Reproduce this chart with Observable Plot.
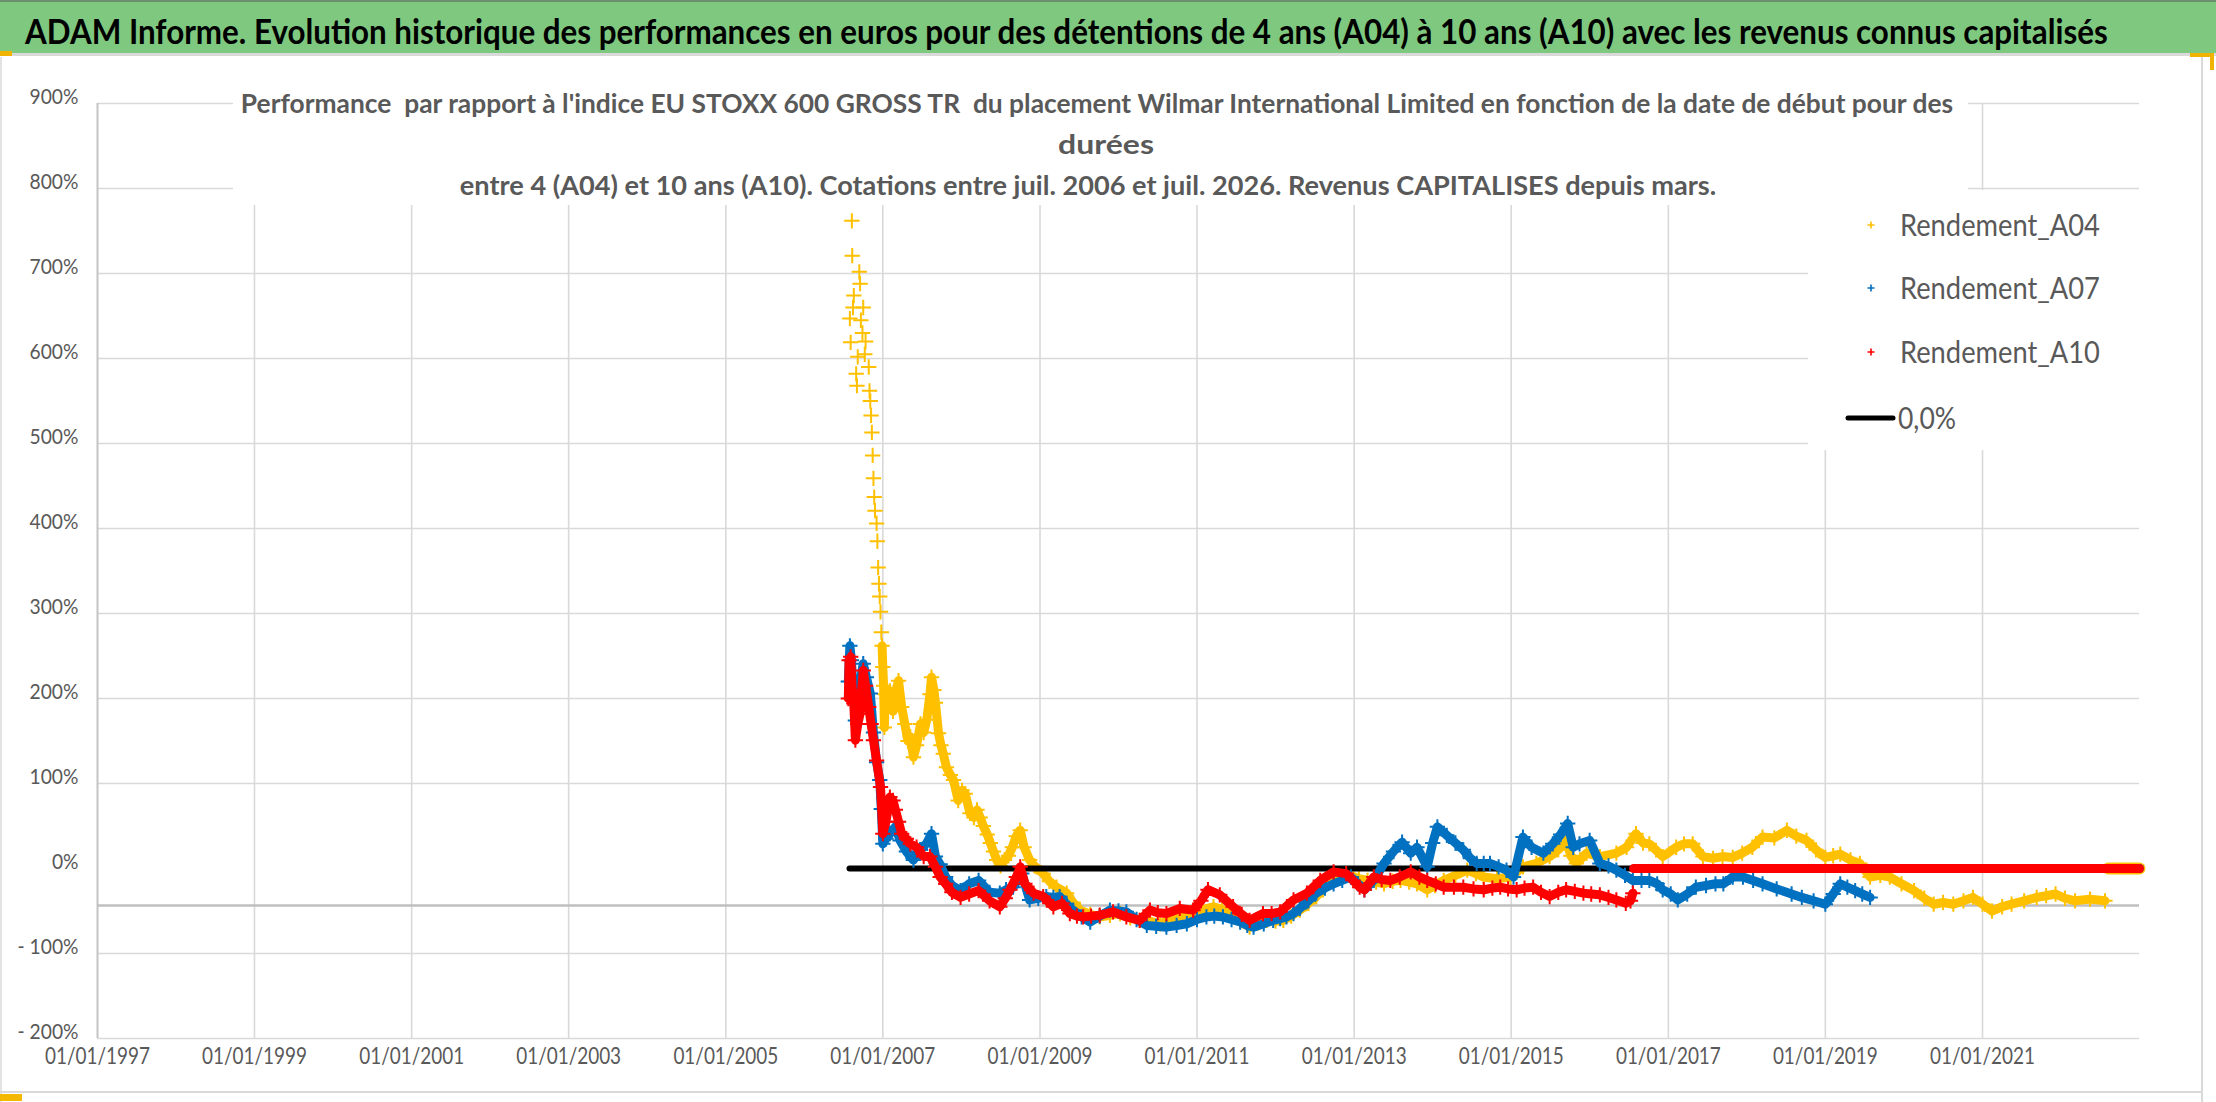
<!DOCTYPE html>
<html><head><meta charset="utf-8">
<script src="https://cdn.jsdelivr.net/npm/d3@7"></script>
<script src="https://cdn.jsdelivr.net/npm/@observablehq/plot@0.6"></script>
<style>
html,body{margin:0;padding:0;background:#fff;}
#wrap{position:relative;width:2216px;height:1102px;overflow:hidden;}
#title svg,#chart svg{display:block;}
</style></head>
<body><div id="wrap"><div id="title"></div><div id="chart"></div></div>
<script>
const FONT = 'Lato,"Open Sans","Noto Sans",sans-serif';
const titleText = "ADAM Informe. Evolution historique des performances en euros pour des détentions de 4 ans (A04) à 10 ans (A10) avec les revenus connus capitalisés";
const subtitleLines = [
  "Performance  par rapport à l'indice EU STOXX 600 GROSS TR  du placement Wilmar International Limited en fonction de la date de début pour des",
  "durées",
  "entre 4 (A04) et 10 ans (A10). Cotations entre juil. 2006 et juil. 2026. Revenus CAPITALISES depuis mars."
];
const seriesNames = ["Rendement_A04", "Rendement_A07", "Rendement_A10", "0,0%"];
const seriesColors = ["#FFC000", "#0070C0", "#FF0000", "#000000"];
const xTickYears = [1997,1999,2001,2003,2005,2007,2009,2011,2013,2015,2017,2019,2021];
const xDomainYears = [1997, 2023];
const yTicks = [-2,-1,0,1,2,3,4,5,6,7,8,9];
const axisCross = -0.435;

// [decimal year, performance (1 = 100%)]
const a04 = [
[2006.58,6.47],[2006.59,6.19],[2006.605,7.62],[2006.61,7.21],[2006.62,6.60],[2006.63,6.74],[2006.66,5.82],[2006.67,5.68],
[2006.68,6.02],[2006.70,7.02],[2006.71,6.88],[2006.72,6.45],[2006.74,6.30],[2006.75,6.60],[2006.77,6.05],[2006.78,6.20],
[2006.82,5.90],[2006.83,5.62],[2006.84,5.50],[2006.85,5.33],[2006.86,5.13],[2006.87,4.86],[2006.88,4.59],[2006.89,4.37],
[2006.90,4.21],[2006.92,4.06],[2006.93,3.85],[2006.94,3.54],[2006.95,3.35],[2006.96,3.20],[2006.97,3.02],[2006.98,2.78],
[2006.99,2.62],[2007.00,2.37],[2007.01,2.15],[2007.02,1.66],[2007.03,2.05],[2007.06,1.95],[2007.09,2.09],[2007.13,1.85],
[2007.17,2.10],[2007.20,2.21],[2007.24,1.90],[2007.28,1.70],[2007.32,1.50],[2007.35,1.55],[2007.39,1.31],[2007.43,1.45],
[2007.48,1.70],[2007.52,1.60],[2007.56,1.75],[2007.60,2.05],[2007.62,2.25],[2007.65,2.10],[2007.67,1.95],[2007.71,1.59],
[2007.74,1.45],[2007.77,1.35],[2007.81,1.19],[2007.86,1.10],[2007.90,1.04],[2007.96,0.80],[2008.01,0.92],[2008.05,0.88],
[2008.11,0.65],[2008.16,0.60],[2008.20,0.69],[2008.24,0.60],[2008.28,0.50],[2008.33,0.40],[2008.37,0.30],[2008.41,0.20],
[2008.45,0.10],[2008.50,0.03],[2008.55,0.10],[2008.60,0.15],[2008.65,0.25],[2008.70,0.38],[2008.75,0.45],[2008.80,0.25],
[2008.87,0.10],[2008.93,0.03],[2009.04,-0.06],[2009.12,-0.15],[2009.21,-0.22],[2009.34,-0.29],[2009.42,-0.40],[2009.51,-0.49],
[2009.64,-0.54],[2009.76,-0.57],[2009.89,-0.55],[2010.02,-0.53],[2010.15,-0.58],[2010.27,-0.61],[2010.40,-0.62],[2010.53,-0.65],
[2010.65,-0.61],[2010.78,-0.57],[2010.91,-0.52],[2011.04,-0.49],[2011.21,-0.45],[2011.32,-0.48],[2011.42,-0.53],[2011.55,-0.62],
[2011.67,-0.69],[2011.78,-0.64],[2011.89,-0.61],[2012.00,-0.62],[2012.10,-0.61],[2012.20,-0.56],[2012.31,-0.49],[2012.42,-0.41],
[2012.52,-0.33],[2012.63,-0.22],[2012.74,-0.14],[2012.85,-0.10],[2012.95,-0.08],[2013.06,-0.12],[2013.17,-0.14],[2013.28,-0.16],
[2013.38,-0.18],[2013.49,-0.15],[2013.59,-0.14],[2013.70,-0.16],[2013.80,-0.18],[2013.93,-0.25],[2014.03,-0.20],[2014.14,-0.14],
[2014.29,-0.08],[2014.44,-0.02],[2014.55,-0.06],[2014.65,-0.10],[2014.82,-0.12],[2014.99,-0.10],[2015.07,-0.04],[2015.15,0.02],
[2015.32,0.06],[2015.49,0.14],[2015.60,0.22],[2015.70,0.33],[2015.76,0.15],[2015.83,0.06],[2015.96,0.18],[2016.13,0.14],
[2016.34,0.18],[2016.47,0.25],[2016.59,0.41],[2016.68,0.30],[2016.76,0.29],[2016.93,0.14],[2017.10,0.25],[2017.20,0.29],
[2017.31,0.29],[2017.44,0.14],[2017.57,0.12],[2017.69,0.14],[2017.82,0.13],[2017.94,0.18],[2018.07,0.25],[2018.20,0.37],
[2018.35,0.36],[2018.51,0.45],[2018.63,0.38],[2018.76,0.33],[2018.88,0.22],[2019.00,0.13],[2019.10,0.15],[2019.19,0.17],
[2019.32,0.10],[2019.44,0.06],[2019.57,-0.10],[2019.70,-0.08],[2019.82,-0.10],[2019.97,-0.18],[2020.13,-0.26],[2020.26,-0.35],
[2020.38,-0.42],[2020.50,-0.40],[2020.63,-0.42],[2020.76,-0.38],[2020.88,-0.34],[2021.00,-0.42],[2021.12,-0.50],[2021.25,-0.45],
[2021.37,-0.42],[2021.53,-0.38],[2021.69,-0.34],[2021.81,-0.32],[2021.93,-0.30],[2022.05,-0.35],[2022.18,-0.38],[2022.37,-0.36],
[2022.56,-0.38]
];
const a04Tail = [[2022.60,0],[2023.00,0]];

const a07 = [
[2006.56,2.20],[2006.58,2.62],[2006.60,2.45],[2006.62,2.10],[2006.65,1.74],[2006.68,1.95],[2006.72,2.25],[2006.75,2.41],
[2006.79,2.25],[2006.84,2.06],[2006.88,1.60],[2006.92,1.25],[2006.96,1.04],[2006.98,0.70],[2007.00,0.29],[2007.04,0.35],
[2007.09,0.41],[2007.16,0.49],[2007.22,0.33],[2007.30,0.20],[2007.39,0.10],[2007.48,0.22],[2007.56,0.30],[2007.62,0.41],
[2007.67,0.14],[2007.73,0.05],[2007.80,-0.10],[2007.88,-0.20],[2007.99,-0.26],[2008.10,-0.18],[2008.22,-0.14],[2008.36,-0.28],
[2008.49,-0.29],[2008.57,-0.25],[2008.66,-0.22],[2008.77,-0.06],[2008.87,-0.37],[2008.98,-0.35],[2009.08,-0.33],[2009.17,-0.34],
[2009.25,-0.33],[2009.34,-0.42],[2009.42,-0.49],[2009.53,-0.57],[2009.64,-0.63],[2009.76,-0.56],[2009.89,-0.49],[2010.00,-0.50],
[2010.10,-0.51],[2010.23,-0.60],[2010.36,-0.67],[2010.48,-0.68],[2010.61,-0.69],[2010.74,-0.67],[2010.87,-0.65],[2011.00,-0.60],
[2011.12,-0.57],[2011.22,-0.56],[2011.33,-0.57],[2011.44,-0.60],[2011.55,-0.63],[2011.64,-0.67],[2011.72,-0.69],[2011.85,-0.65],
[2011.97,-0.61],[2012.06,-0.59],[2012.14,-0.57],[2012.23,-0.53],[2012.31,-0.47],[2012.42,-0.38],[2012.52,-0.29],[2012.63,-0.23],
[2012.74,-0.18],[2012.85,-0.14],[2012.96,-0.10],[2013.05,-0.18],[2013.13,-0.25],[2013.25,-0.14],[2013.38,0.06],[2013.50,0.20],
[2013.61,0.31],[2013.72,0.18],[2013.80,0.25],[2013.93,0.02],[2014.00,0.30],[2014.06,0.49],[2014.18,0.39],[2014.29,0.30],
[2014.39,0.22],[2014.48,0.12],[2014.56,0.06],[2014.65,0.06],[2014.73,0.06],[2014.84,0.02],[2014.94,-0.02],[2015.03,-0.10],
[2015.15,0.37],[2015.26,0.25],[2015.41,0.18],[2015.53,0.29],[2015.63,0.40],[2015.72,0.53],[2015.79,0.25],[2015.87,0.29],
[2016.00,0.33],[2016.13,0.06],[2016.24,0.03],[2016.34,-0.02],[2016.45,-0.08],[2016.55,-0.14],[2016.66,-0.14],[2016.76,-0.14],
[2016.86,-0.18],[2016.93,-0.25],[2017.03,-0.30],[2017.12,-0.37],[2017.24,-0.30],[2017.35,-0.22],[2017.48,-0.20],[2017.60,-0.18],
[2017.70,-0.18],[2017.82,-0.10],[2017.95,-0.10],[2018.08,-0.14],[2018.20,-0.18],[2018.38,-0.24],[2018.57,-0.30],[2018.70,-0.34],
[2018.85,-0.38],[2019.00,-0.42],[2019.10,-0.30],[2019.19,-0.18],[2019.28,-0.22],[2019.38,-0.26],[2019.47,-0.30],[2019.57,-0.34]
];
const a07Tail = [[2019.60,0],[2023.00,0]];

const a10 = [
[2006.56,2.00],[2006.57,2.45],[2006.59,2.49],[2006.61,2.10],[2006.63,1.94],[2006.65,1.51],[2006.68,1.70],[2006.71,1.82],
[2006.73,2.10],[2006.75,2.33],[2006.78,2.15],[2006.82,1.90],[2006.85,1.70],[2006.88,1.51],[2006.92,1.27],[2006.97,0.96],
[2007.00,0.41],[2007.04,0.55],[2007.09,0.84],[2007.13,0.80],[2007.16,0.69],[2007.20,0.55],[2007.24,0.41],[2007.30,0.35],
[2007.35,0.29],[2007.43,0.25],[2007.52,0.14],[2007.60,0.14],[2007.67,0.02],[2007.73,-0.10],[2007.80,-0.18],[2007.88,-0.28],
[2007.99,-0.34],[2008.10,-0.30],[2008.22,-0.26],[2008.36,-0.38],[2008.49,-0.45],[2008.56,-0.35],[2008.62,-0.25],[2008.70,-0.10],
[2008.75,0.02],[2008.81,-0.18],[2008.92,-0.29],[2009.04,-0.33],[2009.17,-0.45],[2009.28,-0.41],[2009.38,-0.53],[2009.47,-0.56],
[2009.55,-0.57],[2009.65,-0.56],[2009.76,-0.55],[2009.93,-0.51],[2010.10,-0.57],[2010.27,-0.61],[2010.40,-0.49],[2010.50,-0.52],
[2010.61,-0.53],[2010.78,-0.47],[2010.95,-0.49],[2011.05,-0.38],[2011.14,-0.25],[2011.29,-0.31],[2011.46,-0.45],[2011.57,-0.54],
[2011.67,-0.61],[2011.84,-0.53],[2011.95,-0.53],[2012.06,-0.51],[2012.23,-0.37],[2012.40,-0.29],[2012.57,-0.14],[2012.74,-0.04],
[2012.90,-0.06],[2013.07,-0.22],[2013.13,-0.25],[2013.25,-0.10],[2013.35,-0.13],[2013.46,-0.14],[2013.58,-0.10],[2013.72,-0.04],
[2013.83,-0.10],[2013.93,-0.14],[2014.04,-0.18],[2014.14,-0.22],[2014.27,-0.22],[2014.39,-0.22],[2014.52,-0.24],[2014.65,-0.25],
[2014.76,-0.23],[2014.86,-0.22],[2014.96,-0.24],[2015.07,-0.25],[2015.17,-0.23],[2015.28,-0.22],[2015.38,-0.28],[2015.49,-0.33],
[2015.60,-0.28],[2015.70,-0.25],[2015.81,-0.27],[2015.92,-0.29],[2016.02,-0.30],[2016.13,-0.31],[2016.24,-0.34],[2016.34,-0.37],
[2016.46,-0.41],[2016.52,-0.38],[2016.55,-0.29]
];
const a10Tail = [[2016.56,0],[2023.00,0]];

const zeroLine = [[2006.575,0],[2023.00,0]];

// ---------- helpers ----------
const toDate = t => { const y = Math.floor(t); return new Date(Date.UTC(y,0,1) + (t - y) * 365.25 * 864e5); };
const rows = arr => arr.map(([t, v]) => ({date: toDate(t), t, v}));
const fmtPct = v => v < 0 ? "- " + Math.round(Math.abs(v) * 100) + "%" : Math.round(v * 100) + "%";
// squeeze a text element horizontally around its anchor
function squeeze(node, sx) {
  const x = +node.getAttribute("x") || 0, y = +node.getAttribute("y") || 0;
  const t = node.getAttribute("transform") || "";
  node.setAttribute("x", 0); node.setAttribute("y", 0);
  node.setAttribute("transform", `${t} translate(${x},${y}) scale(${sx},1)`);
}
function fitWidth(node, target) {
  const w = node.getComputedTextLength();
  if (w > 0) squeeze(node, target / w);
}

const W = 2216, TITLE_H = 57, H = 1102 - TITLE_H;

// ---------- title ----------
const tsvg = d3.select("#title").append("svg").attr("width", W).attr("height", TITLE_H);
tsvg.append("rect").attr("x",0).attr("y",0).attr("width",W).attr("height",TITLE_H).attr("fill","#fff");
tsvg.append("rect").attr("x",0).attr("y",0).attr("width",W).attr("height",53).attr("fill","#7EC87F");
tsvg.append("rect").attr("x",0).attr("y",0).attr("width",W).attr("height",2).attr("fill","#6d8f6e");
tsvg.append("rect").attr("x",0).attr("y",53).attr("width",W).attr("height",3).attr("fill","#d9d9d9");
tsvg.append("rect").attr("x",0).attr("y",51).attr("width",12).attr("height",5).attr("fill","#f0b400");
const titleNode = tsvg.append("text").text(titleText)
  .attr("x", 25).attr("y", 44).attr("text-anchor", "start")
  .style("font-family", FONT).style("font-weight", "bold").style("font-size", "35px").attr("fill", "#000").node();
fitWidth(titleNode, 2083);

// ---------- chart ----------
const xStart = Date.UTC(xDomainYears[0],0,1), xEnd = Date.UTC(xDomainYears[1],0,1);
const tickDates = xTickYears.map(y => new Date(Date.UTC(y,0,1)));

const A04 = rows(a04), A07 = rows(a07), A10 = rows(a10);
const dotOpts = (color) => ({x: "date", y: "v", symbol: "plus", r: 5, stroke: color, strokeWidth: 2, fill: "none"});
const lineOpts = (color, w) => ({x: "date", y: "v", stroke: color, strokeWidth: w, strokeLinejoin: "round", strokeLinecap: "round"});

const chart = Plot.plot({
  width: W, height: H,
  marginTop: 46, marginBottom: 64, marginLeft: 97, marginRight: 77,
  x: {type: "utc", domain: [new Date(xStart), new Date(xEnd)]},
  y: {domain: [-2, 9]},
  style: {fontFamily: FONT, background: "transparent", color: "#595959", overflow: "visible"},
  marks: [
    Plot.ruleY(yTicks.filter(v => v !== 0), {stroke: "#d9d9d9", strokeWidth: 1.6}),
    Plot.ruleX(tickDates.slice(1), {stroke: "#d9d9d9", strokeWidth: 1.6}),
    Plot.ruleX([tickDates[0]], {stroke: "#c4c4c4", strokeWidth: 2}),
    Plot.ruleY([axisCross], {stroke: "#bfbfbf", strokeWidth: 2.6}),
    Plot.axisY({ticks: yTicks, tickFormat: fmtPct, tickSize: 0, tickPadding: 19, fontSize: 22, label: null}),
    Plot.axisX({ticks: tickDates, tickFormat: d => "01/01/" + d.getUTCFullYear(), tickSize: 0, tickPadding: 25, fontSize: 23, label: null}),
    // A04
    Plot.line(A04.filter(d => d.t >= 2006.99), lineOpts(seriesColors[0], 9)),
    Plot.dot(A04, dotOpts(seriesColors[0])),
    Plot.line(rows(a04Tail), lineOpts(seriesColors[0], 12)),
    // 0,0%
    Plot.line(rows(zeroLine), lineOpts(seriesColors[3], 6)),
    // A07
    Plot.line(A07, lineOpts(seriesColors[1], 9)),
    Plot.dot(A07, dotOpts(seriesColors[1])),
    Plot.line(rows(a07Tail), lineOpts(seriesColors[1], 9)),
    // A10
    Plot.line(A10, lineOpts(seriesColors[2], 9)),
    Plot.dot(A10, dotOpts(seriesColors[2])),
    Plot.line(rows(a10Tail), lineOpts(seriesColors[2], 9))
  ]
});
document.getElementById("chart").appendChild(chart);

const svg = d3.select(chart);
// narrow the tick labels like the reference's condensed face
{
  const yl = svg.selectAll('g[aria-label="y-axis tick label"] text').nodes();
  const ref = yl.find(n => n.textContent === "900%");
  const sy = ref ? 49 / ref.getComputedTextLength() : 0.88;
  yl.forEach(n => squeeze(n, sy));
  const xl = svg.selectAll('g[aria-label="x-axis tick label"] text').nodes();
  const sx = xl.length ? 105 / xl[0].getComputedTextLength() : 0.88;
  xl.forEach(n => squeeze(n, sx));
}

// ---------- subtitle ----------
const OFF = TITLE_H;
svg.append("rect").attr("x", 233).attr("y", 88 - OFF).attr("width", 1735).attr("height", 117).attr("fill", "#fff");
const subY = [56, 97, 138];
const subLen = [1713, 96, 1257];
const subX = [1097, 1106, 1088];
subtitleLines.forEach((s, i) => {
  const n = svg.append("text").text(s)
    .attr("x", subX[i]).attr("y", subY[i]).attr("text-anchor", "middle")
    .style("font-family", FONT).style("font-weight", "bold").style("font-size", "27px")
    .style("white-space", "pre").attr("fill", "#595959").node();
  fitWidth(n, subLen[i]);
});

// ---------- legend ----------
svg.append("rect").attr("x", 1808).attr("y", 190 - OFF).attr("width", 332).attr("height", 260).attr("fill", "#fff");
const legY = [225, 288, 352, 418].map(y => y - OFF);
const legW = [200, 200, 200, 58];
seriesNames.forEach((name, i) => {
  if (i < 3) {
    const cx = 1871, cy = legY[i], s = 3.5;
    svg.append("path").attr("d", `M${cx - s},${cy}H${cx + s}M${cx},${cy - s}V${cy + s}`)
      .attr("stroke", seriesColors[i]).attr("stroke-width", 1.6).attr("fill", "none");
  } else {
    svg.append("line").attr("x1", 1848).attr("x2", 1893).attr("y1", legY[i]).attr("y2", legY[i])
      .attr("stroke", "#000").attr("stroke-width", 5).attr("stroke-linecap", "round");
  }
  const n = svg.append("text").text(name).attr("x", i < 3 ? 1900 : 1898).attr("y", legY[i] + 11)
    .attr("text-anchor", "start")
    .style("font-family", FONT).style("font-size", "30px").attr("fill", "#595959").node();
  fitWidth(n, legW[i]);
});

// chart object frame & selection handles
svg.append("line").attr("x1", 2202).attr("x2", 2202).attr("y1", 0).attr("y2", H).attr("stroke", "#d9d9d9").attr("stroke-width", 2);
svg.append("line").attr("x1", 1).attr("x2", 1).attr("y1", 0).attr("y2", H).attr("stroke", "#e3e3e3").attr("stroke-width", 2);
svg.append("line").attr("x1", 0).attr("x2", 2202).attr("y1", 1092 - OFF).attr("y2", 1092 - OFF).attr("stroke", "#d9d9d9").attr("stroke-width", 2);
svg.append("rect").attr("x", 0).attr("y", 1094 - OFF).attr("width", 22).attr("height", 7).attr("fill", "#f5b800");
svg.append("path").attr("d", `M2190,${55 - OFF}H2212V${70 - OFF}`).attr("stroke", "#f0b400").attr("stroke-width", 4).attr("fill", "none");
</script>
</body></html>
